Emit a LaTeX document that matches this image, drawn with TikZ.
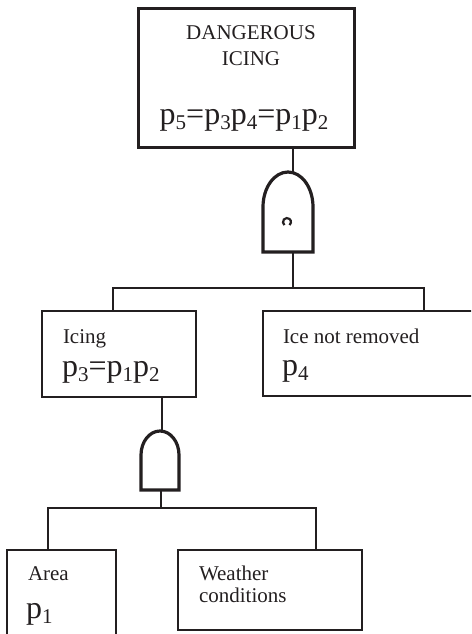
\documentclass[tikz,border=0pt]{standalone}
\usepackage{fontspec}
\setmainfont{Liberation Serif}
\newcommand\psb[1]{p\raisebox{-5pt}{\fontsize{21}{21}\selectfont #1}}
\begin{document}
\begin{tikzpicture}[x=1pt,y=-1pt]
\definecolor{ink}{HTML}{231F20}
\tikzset{
  box/.style={draw=ink, rectangle, line width=1.6pt, inner sep=0pt, outer sep=0pt, anchor=north west},
  topbox/.style={box, line width=3pt},
  lbl/.style={inner sep=0pt, outer sep=0pt, anchor=base west, text=ink, font=\fontsize{21}{21}\selectfont},
  big/.style={inner sep=0pt, outer sep=0pt, anchor=base west, text=ink, font=\fontsize{32}{32}\selectfont},
  wire/.style={draw=ink, line width=1.6pt},
  gate/.style={draw=ink, line width=3.2pt, fill=white, line join=miter}
}
\clip (0,0) rectangle (471,634);
% boxes
\node[topbox, minimum width=216pt, minimum height=138pt] (top) at (138,9) {};
\node[box, minimum width=154pt, minimum height=86pt] (icing) at (42,311) {};
\node[box, minimum width=230pt, minimum height=85pt] (ice) at (263,311) {};
\node[box, minimum width=109pt, minimum height=90pt] (area) at (7,550) {};
\node[box, minimum width=184pt, minimum height=80pt] (weather) at (178,550) {};
% texts
\node[lbl, anchor=base] (t1) at (251,40) {DANGEROUS};
\node[lbl, anchor=base] (t2) at (251,66) {ICING};
\node[big, anchor=base] (t3) at (244,124) {\psb{5}=\psb{3}\psb{4}=\psb{1}\psb{2}};
\node[lbl] (t4) at (63,343) {Icing};
\node[big] (t5) at (62,376) {\psb{3}=\psb{1}\psb{2}};
\node[lbl] (t6) at (283,343) {Ice not removed};
\node[big] (t7) at (282,375) {\psb{4}};
\node[lbl] (t8) at (28,580) {Area};
\node[big] (t9) at (26,618) {\psb{1}};
\node[lbl] (t10) at (199,580) {Weather};
\node[lbl] (t11) at (199,602) {conditions};
% gate 1
\coordinate (g1top) at (288,172);
\coordinate (g1bot) at (293,252);
\coordinate (bar1) at (293,288);
\draw[wire] (top.south -| g1bot) -- (g1top -| g1bot);
\draw[gate] (263,252) -- (263,207) arc[start angle=180, end angle=0, x radius=25, y radius=-35] -- (313,252) -- cycle;
\draw[draw=ink, line width=2.2pt] (284.4,225.1) arc[start angle=130, end angle=410, radius=4];
\draw[wire] (g1bot) -- (bar1);
\draw[wire] (icing.north -| 113,0) -- (113,288) -- (424,288) -- (ice.north -| 424,0);
% gate 2
\coordinate (g2bot) at (161,490);
\coordinate (bar2) at (161,508);
\draw[wire] (icing.south -| 162,0) -- (162,431);
\draw[gate] (141,490) -- (141,455) arc[start angle=180, end angle=0, x radius=19, y radius=-24] -- (179,490) -- cycle;
\draw[wire] (g2bot) -- (bar2);
\draw[wire] (area.north -| 48,0) -- (48,508) -- (316,508) -- (weather.north -| 316,0);
\end{tikzpicture}
\end{document}
